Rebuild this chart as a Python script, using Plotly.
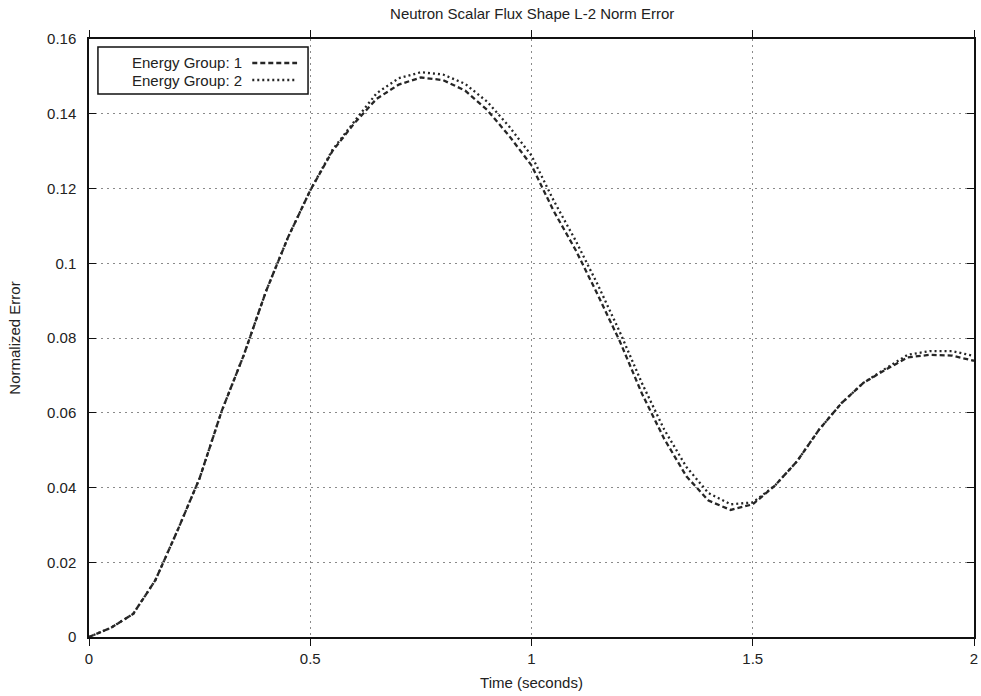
import plotly.graph_objects as go

# Sample times (seconds)
time_s = [0.00, 0.05, 0.10, 0.15, 0.20, 0.25, 0.30, 0.35, 0.40, 0.45,
          0.50, 0.55, 0.60, 0.65, 0.70, 0.75, 0.80, 0.85, 0.90, 0.95,
          1.00, 1.05, 1.10, 1.15, 1.20, 1.25, 1.30, 1.35, 1.40, 1.45,
          1.50, 1.55, 1.60, 1.65, 1.70, 1.75, 1.80, 1.85, 1.90, 1.95, 2.00]

# Normalized L-2 error of the scalar flux shape, energy group 1
group1_err = [0.0000, 0.0025, 0.0062, 0.0152, 0.0285, 0.0425, 0.0605, 0.0755, 0.0925, 0.1070,
              0.1195, 0.1300, 0.1375, 0.1440, 0.1478, 0.1497, 0.1490, 0.1462, 0.1410, 0.1340,
              0.1262, 0.1140, 0.1035, 0.0915, 0.0790, 0.0650, 0.0530, 0.0430, 0.0365, 0.0340,
              0.0355, 0.0405, 0.0470, 0.0555, 0.0625, 0.0680, 0.0715, 0.0748, 0.0755, 0.0753, 0.0739]

# Normalized L-2 error of the scalar flux shape, energy group 2
group2_err = [0.0000, 0.0025, 0.0062, 0.0152, 0.0285, 0.0425, 0.0605, 0.0755, 0.0925, 0.1070,
              0.1195, 0.1303, 0.1380, 0.1455, 0.1495, 0.1511, 0.1505, 0.1480, 0.1432, 0.1365,
              0.1288, 0.1168, 0.1060, 0.0942, 0.0815, 0.0678, 0.0555, 0.0455, 0.0385, 0.0355,
              0.0360, 0.0405, 0.0470, 0.0555, 0.0625, 0.0680, 0.0718, 0.0755, 0.0765, 0.0765, 0.0752]

series_names = ["Energy Group: 1", "Energy Group: 2"]
series_dash = ["5px,3px", "2px,3px"]

x_ticks = [0, 0.5, 1, 1.5, 2]
x_tick_labels = ["0", "0.5", "1", "1.5", "2"]
y_ticks = [0, 0.02, 0.04, 0.06, 0.08, 0.1, 0.12, 0.14, 0.16]
y_tick_labels = ["0", "0.02", "0.04", "0.06", "0.08", "0.1", "0.12", "0.14", "0.16"]

FONT = "Liberation Sans, Arial, Helvetica, sans-serif"
INK = "#222222"

fig = go.Figure()
for name, ys, dash in zip(series_names, [group1_err, group2_err], series_dash):
    fig.add_trace(go.Scatter(
        x=time_s, y=ys, mode="lines", name=name,
        line=dict(color="#262626", width=2.3, dash=dash),
        showlegend=False,
    ))

axis_common = dict(
    showline=True, linecolor="#111111", linewidth=1.5, mirror="ticks",
    showgrid=True, gridcolor="#8a8a8a", gridwidth=1, griddash="2px,4px",
    zeroline=False, tickcolor="#111111", ticklen=7, tickwidth=1.2,
    tickfont=dict(family=FONT, size=15, color=INK),
)

fig.update_xaxes(
    range=[0, 2], tickvals=x_ticks, ticktext=x_tick_labels, ticks="outside",
    title=dict(text="Time (seconds)", font=dict(family=FONT, size=15, color=INK), standoff=12),
    **axis_common,
)
fig.update_yaxes(
    range=[0, 0.16], tickvals=y_ticks, ticktext=y_tick_labels, ticks="inside",
    ticklabelstandoff=8,
    title=dict(text="Normalized Error", font=dict(family=FONT, size=15, color=INK), standoff=23),
    **axis_common,
)

# Key box in the upper-left corner: label text followed by the line sample
box = dict(x0=0.0101, x1=0.2475, y0=0.908, y1=0.9866)
fig.add_shape(type="rect", xref="paper", yref="paper", **box,
              line=dict(color="#111111", width=1.5), fillcolor="white", layer="above")
label_y = [0.9599, 0.9314]
for name, dash, ly in zip(series_names, series_dash, label_y):
    fig.add_annotation(x=0.1755, y=ly, xref="paper", yref="paper", text=name,
                       showarrow=False, xanchor="right", yanchor="middle",
                       font=dict(family=FONT, size=15, color=INK))
    fig.add_shape(type="line", xref="paper", yref="paper",
                  x0=0.1845, x1=0.2351, y0=ly, y1=ly, layer="above",
                  line=dict(color="#262626", width=2.3, dash=dash))

fig.update_layout(
    width=981, height=696,
    margin=dict(l=89, r=3, t=39, b=59),
    paper_bgcolor="white", plot_bgcolor="white",
    title=dict(text="Neutron Scalar Flux Shape L-2 Norm Error",
               font=dict(family=FONT, size=15, color=INK),
               x=0.5425, xanchor="center", y=0.98, yanchor="middle"),
)

fig.write_html("out.html")
